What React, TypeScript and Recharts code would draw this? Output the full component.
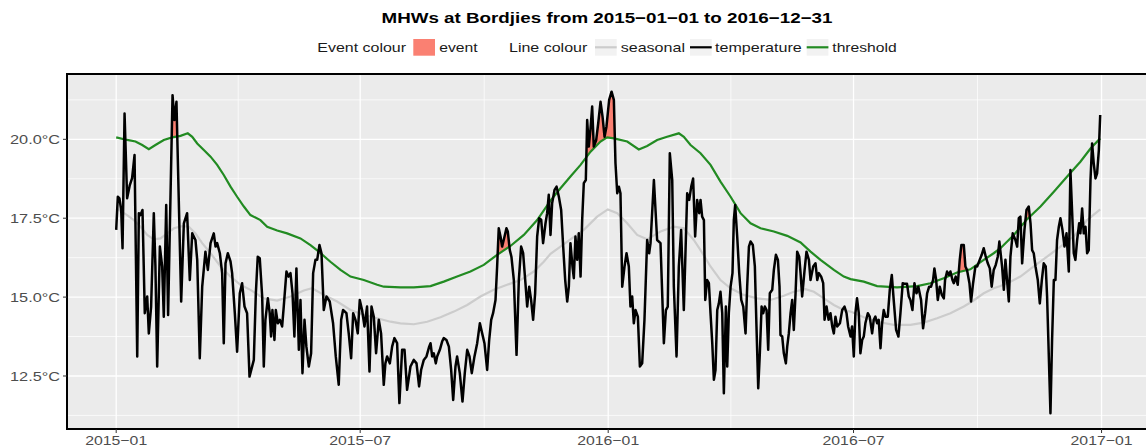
import React from "react";
import { ComposedChart, Line, Area, XAxis, YAxis, CartesianGrid, ReferenceArea } from "recharts";

// x values are days since 2015-01-01
const xTickDays = [0, 181, 365, 547, 731];
const xTickLabels = ["2015\u221201", "2015\u221207", "2016\u221201", "2016\u221207", "2017\u221201"];
const xMinorDays = [90.5, 273, 456, 639];
const yTicks = [12.5, 15, 17.5, 20];
const yMinor = [11.25, 13.75, 16.25, 18.75, 21.25];
const xDomain: [number, number] = [-36.5, 766.5];
const yDomain: [number, number] = [10.82, 22.07];

const temperature: [number, number][] = [
  [0, 17.13], [1.2, 18.18], [2.4, 18.13], [3.7, 17.76], [4.7, 16.55], [6.2, 20.82], [8.1, 18.13], [10.1, 18.55],
  [11.8, 18.77], [13.6, 19.5], [15.6, 13.12], [16.8, 17.66], [18.0, 17.6], [19.5, 17.76], [21.2, 14.49], [23.0, 15.02],
  [24.2, 13.85], [25.9, 14.7], [27.9, 17.66], [29.1, 15.97], [30.4, 12.8], [32.4, 16.6], [34.1, 15.97], [35.3, 14.38],
  [37.1, 17.92], [38.5, 14.43], [41.8, 21.4], [43.2, 20.61], [44.7, 21.19], [48.2, 14.86], [50.2, 17.34], [52.6, 17.66],
  [54.6, 15.54], [56.4, 17.02], [58.8, 16.81], [60.1, 16.18], [62.0, 13.06], [63.8, 15.33], [66.2, 16.44], [68.0, 15.86],
  [70.0, 16.71], [72.4, 17.02], [73.7, 16.6], [74.9, 16.71], [76.9, 16.39], [78.6, 15.76], [79.8, 13.54], [81.1, 16.07],
  [82.8, 16.39], [84.8, 16.13], [86.0, 15.76], [88.0, 14.49], [89.7, 13.27], [91.7, 15.12], [93.4, 15.44], [95.2, 14.7],
  [97.1, 14.49], [98.9, 12.48], [102.1, 13.01], [103.6, 15.12], [105.0, 16.28], [106.5, 16.23], [108.3, 15.02], [109.5, 12.8],
  [110.7, 14.28], [112.5, 14.96], [113.9, 14.49], [114.9, 13.75], [115.9, 14.59], [117.4, 13.64], [118.4, 14.59], [119.9, 14.17],
  [121.4, 14.28], [123.1, 14.07], [124.3, 14.7], [126.3, 15.81], [127.8, 15.65], [129.3, 15.76], [130.8, 15.12], [132.2, 13.75],
  [133.7, 15.91], [135.5, 13.33], [136.7, 14.91], [138.2, 12.59], [139.7, 14.28], [141.1, 13.43], [142.9, 12.8], [144.6, 13.22],
  [146.1, 15.76], [147.8, 16.18], [149.1, 16.18], [150.8, 16.65], [152.3, 16.39], [154.0, 14.59], [156.0, 15.02], [158.4, 14.86],
  [160.9, 14.17], [162.9, 13.12], [165.1, 12.22], [166.9, 14.28], [168.3, 14.59], [170.8, 14.49], [172.5, 13.85], [174.3, 13.06],
  [175.8, 14.49], [177.5, 14.28], [179.2, 13.85], [180.7, 14.91], [182.4, 14.59], [184.2, 14.07], [186.1, 14.7], [187.9, 12.64],
  [189.4, 14.7], [191.1, 14.38], [192.8, 13.22], [194.8, 14.28], [196.5, 13.85], [198.5, 12.22], [199.7, 12.9], [201.0, 13.12],
  [203.0, 12.9], [204.7, 13.43], [206.4, 13.7], [208.4, 13.54], [210.1, 11.64], [212.1, 13.33], [213.9, 13.33], [215.8, 12.06],
  [218.3, 12.8], [220.8, 13.01], [222.8, 12.9], [224.7, 12.17], [226.2, 12.69], [228.2, 13.01], [230.2, 13.12], [232.2, 13.43],
  [233.2, 13.54], [234.4, 13.12], [235.6, 13.22], [237.1, 12.9], [238.1, 13.12], [240.1, 13.33], [241.8, 13.59], [243.0, 13.7],
  [245.0, 13.64], [246.8, 13.43], [248.5, 12.69], [250.0, 11.74], [251.7, 12.8], [252.9, 13.12], [254.9, 12.59], [256.9, 11.69],
  [258.6, 12.59], [260.4, 13.33], [262.1, 13.12], [263.8, 12.59], [265.8, 13.12], [267.8, 13.54], [269.8, 14.17], [271.5, 13.85],
  [273.2, 13.54], [275.2, 12.69], [276.7, 13.64], [278.2, 14.28], [279.6, 14.49], [281.4, 14.91], [282.6, 15.97], [283.8, 17.18],
  [285.1, 16.92], [286.3, 16.6], [288.1, 16.92], [289.5, 17.18], [290.5, 17.08], [292.0, 16.49], [293.2, 16.28], [295.0, 15.54],
  [297.0, 13.17], [298.7, 15.54], [300.4, 16.6], [301.9, 16.39], [303.6, 15.44], [304.9, 14.7], [306.4, 15.33], [307.8, 14.91],
  [309.3, 14.28], [310.8, 15.12], [312.3, 16.92], [313.8, 17.5], [315.3, 17.45], [316.7, 16.71], [318.5, 17.34], [319.7, 17.66],
  [320.9, 18.24], [322.2, 16.97], [323.4, 17.97], [325.2, 18.4], [326.7, 18.5], [328.4, 18.18], [330.1, 17.76], [331.6, 16.6],
  [333.1, 15.54], [334.6, 14.86], [335.8, 15.33], [337.0, 16.71], [338.5, 15.97], [339.5, 15.6], [340.7, 16.92], [342.0, 16.18],
  [343.2, 17.02], [344.5, 15.65], [345.7, 17.45], [346.9, 18.61], [348.4, 18.71], [349.4, 20.61], [350.6, 19.77], [351.9, 20.35],
  [353.1, 21.04], [354.3, 19.77], [356.1, 19.98], [357.6, 20.51], [359.3, 21.19], [360.8, 20.72], [362.3, 20.08], [363.7, 20.4],
  [365.7, 21.25], [367.5, 21.51], [369.2, 21.25], [370.4, 19.24], [371.7, 18.29], [372.9, 18.5], [374.1, 18.29], [375.4, 15.33],
  [377.1, 15.97], [378.6, 16.39], [380.3, 15.97], [381.5, 14.7], [382.8, 15.02], [384.0, 14.17], [385.3, 14.59], [387.0, 14.38],
  [388.5, 12.8], [390.2, 12.9], [391.9, 14.28], [393.9, 16.81], [395.4, 16.39], [396.4, 16.71], [398.9, 18.71], [401.3, 16.81],
  [403.8, 16.71], [406.3, 13.54], [407.8, 14.59], [409.2, 14.7], [410.7, 19.56], [412.5, 18.71], [413.7, 15.33], [415.7, 13.12],
  [417.4, 15.97], [419.1, 17.13], [421.1, 14.59], [423.6, 18.29], [425.1, 18.08], [426.6, 18.5], [428.0, 18.76], [429.5, 16.92],
  [431.0, 18.08], [432.5, 17.66], [433.5, 18.08], [434.7, 17.55], [436.0, 17.44], [437.0, 14.91], [438.4, 15.54], [439.7, 15.44],
  [440.9, 14.49], [442.2, 13.54], [443.4, 12.38], [444.6, 12.69], [445.9, 14.59], [447.1, 14.8], [448.3, 15.17], [449.6, 14.49],
  [450.8, 11.95], [452.3, 14.7], [453.3, 12.8], [454.5, 14.49], [455.8, 15.33], [457.2, 15.76], [458.2, 17.44], [459.2, 17.92],
  [460.7, 16.92], [462.2, 15.76], [463.7, 14.91], [465.2, 14.7], [466.9, 13.85], [468.1, 15.33], [469.4, 16.6], [470.6, 16.76],
  [472.3, 16.65], [473.8, 15.97], [475.0, 14.07], [476.3, 12.11], [477.5, 13.22], [478.8, 14.7], [480.0, 14.49], [481.2, 14.7],
  [482.5, 14.59], [483.7, 13.33], [484.9, 15.12], [486.7, 15.23], [487.9, 15.86], [489.4, 16.34], [490.9, 16.18], [492.1, 15.33],
  [492.8, 13.8], [494.1, 13.75], [495.3, 13.22], [496.8, 12.9], [497.8, 13.43], [499.0, 13.85], [500.3, 14.49], [501.5, 14.91],
  [502.7, 13.96], [504.0, 15.12], [505.2, 16.44], [506.7, 16.28], [507.7, 15.76], [508.9, 15.02], [510.7, 15.86], [512.1, 16.44],
  [513.9, 16.18], [515.1, 15.54], [517.1, 15.97], [518.8, 16.07], [520.1, 15.54], [521.3, 15.76], [523.0, 15.65], [524.5, 15.44],
  [525.5, 14.28], [527.0, 14.7], [528.5, 14.28], [529.9, 14.49], [531.2, 14.07], [532.4, 13.85], [533.6, 14.38], [534.9, 14.07],
  [536.9, 14.17], [538.6, 14.59], [540.3, 14.7], [541.8, 14.49], [543.0, 14.07], [544.8, 13.75], [545.9, 14.07], [547.2, 13.12],
  [548.4, 14.49], [549.6, 14.96], [550.9, 14.49], [552.1, 13.22], [553.4, 13.64], [554.6, 13.75], [555.8, 14.17], [557.6, 14.49],
  [559.0, 14.38], [560.8, 13.85], [562.0, 14.28], [563.2, 14.38], [564.5, 14.17], [565.7, 14.28], [567.0, 13.38], [568.2, 14.17],
  [569.4, 14.59], [570.7, 14.38], [572.4, 14.38], [573.9, 15.23], [575.4, 15.7], [576.8, 14.91], [578.6, 13.96], [580.3, 13.75],
  [581.8, 14.49], [583.5, 15.44], [584.8, 15.42], [586.7, 15.42], [588.0, 15.02], [589.2, 14.91], [590.7, 14.59], [592.2, 15.44],
  [593.7, 15.12], [595.1, 15.33], [597.1, 14.91], [598.6, 14.01], [600.1, 14.49], [601.6, 15.12], [603.1, 15.33], [604.5, 15.33],
  [606.0, 15.54], [607.0, 15.91], [608.3, 15.54], [609.5, 14.91], [611.0, 15.33], [612.5, 15.07], [614.0, 14.96], [614.9, 15.54],
  [616.4, 15.81], [617.9, 15.7], [618.9, 15.81], [620.4, 15.54], [621.4, 15.44], [622.8, 15.65], [624.3, 15.39], [625.8, 16.18],
  [627.0, 16.65], [628.8, 16.65], [630.0, 15.97], [631.2, 15.86], [633.0, 15.44], [634.2, 14.86], [635.7, 15.44], [637.4, 15.97],
  [638.7, 15.97], [640.6, 16.18], [642.1, 16.34], [643.6, 16.55], [645.1, 16.28], [646.6, 16.07], [648.1, 15.91], [649.5, 15.33],
  [651.0, 15.86], [652.5, 16.02], [654.0, 16.28], [655.2, 16.76], [657.2, 15.97], [658.5, 15.23], [659.7, 16.18], [660.9, 15.54],
  [662.2, 14.86], [663.4, 16.28], [665.1, 17.02], [667.1, 16.81], [668.4, 16.6], [669.6, 17.5], [670.8, 17.55], [672.1, 16.07],
  [673.8, 17.13], [675.3, 17.76], [677.0, 17.87], [678.3, 17.34], [679.5, 16.49], [680.7, 16.39], [682.0, 15.97], [683.7, 15.54],
  [685.2, 14.8], [686.7, 15.54], [688.1, 16.07], [689.6, 15.97], [690.6, 15.02], [693.1, 11.32], [694.3, 13.64], [695.6, 15.54],
  [696.8, 15.54], [698.0, 16.81], [699.3, 17.23], [700.5, 17.5], [702.0, 17.13], [703.5, 16.6], [705.0, 17.02], [706.7, 15.81],
  [707.9, 19.03], [709.2, 17.66], [710.4, 16.39], [711.6, 16.18], [712.9, 16.81], [714.4, 17.34], [715.3, 17.02], [716.6, 17.81],
  [717.8, 17.02], [719.1, 17.23], [720.3, 16.39], [721.5, 16.49], [722.8, 18.71], [724.0, 19.87], [725.2, 19.24], [726.5, 18.76],
  [727.7, 18.92], [729.0, 19.66], [730.0, 20.77],
];

const seasonal: [number, number][] = [
  [0, 17.81], [8.1, 17.6], [13.1, 17.44], [18, 17.23], [23, 16.97], [27.9, 16.83], [32.9, 16.86], [37.8, 17.02],
  [42.8, 17.18], [48.9, 17.25], [53.9, 17.23], [58.8, 17.02], [63.8, 16.71], [70, 16.39], [77.4, 15.97], [84.8, 15.65],
  [92.2, 15.39], [99.6, 15.23], [109.5, 14.96], [119.4, 14.89], [129.3, 15.02], [139.2, 15.21], [145.3, 15.28], [154, 15.07],
  [163.9, 14.86], [173.8, 14.59], [183.7, 14.44], [193.6, 14.33], [203.5, 14.22], [210.9, 14.17], [220.8, 14.14], [230.7, 14.22],
  [240.6, 14.36], [250.5, 14.54], [260.4, 14.75], [270.2, 15.02], [280.1, 15.23], [290, 15.39], [299.9, 15.54], [309.8, 15.81],
  [317.2, 16.12], [322.2, 16.37], [329.6, 16.6], [337, 16.83], [346.9, 17.13], [356.8, 17.55], [364.7, 17.78], [371.7, 17.66],
  [379.1, 17.34], [386.5, 16.97], [393.9, 16.83], [403.8, 17.08], [413.7, 17.23], [421.1, 17.18], [428.5, 16.81], [433.5, 16.49],
  [440.9, 15.97], [448.3, 15.54], [455.8, 15.28], [465.6, 15.07], [475.5, 14.96], [485.4, 14.91], [495.3, 15.04], [502.7, 15.17],
  [511.4, 15.25], [517.6, 15.17], [525, 14.96], [532.4, 14.75], [539.8, 14.59], [544.8, 14.54], [554.6, 14.36], [564.5, 14.22],
  [576.8, 14.12], [589.2, 14.12], [599.1, 14.19], [609, 14.33], [618.9, 14.49], [628.8, 14.7], [635, 14.86], [643.6, 15.12],
  [651, 15.28], [656, 15.35], [663.4, 15.49], [670.8, 15.65], [680.7, 15.97], [690.6, 16.28], [700.5, 16.6], [710.4, 16.92],
  [720.3, 17.44], [730, 17.78],
];

const threshold: [number, number][] = [
  [0, 20.06], [8.1, 19.98], [14.3, 19.93], [19.3, 19.82], [24.2, 19.69], [29.1, 19.82], [35.3, 19.98], [41.5, 20.06],
  [47.7, 20.11], [53.1, 20.19], [56.4, 20.08], [60.1, 19.87], [65, 19.66], [70, 19.45], [74.9, 19.19], [79.8, 18.87],
  [84.8, 18.5], [89.7, 18.18], [94.7, 17.87], [99.6, 17.6], [107, 17.44], [112, 17.23], [119.4, 17.11], [126.8, 17.02],
  [136.7, 16.86], [144.1, 16.65], [150.3, 16.44], [158.9, 16.12], [166.4, 15.86], [173.8, 15.65], [183.7, 15.54], [193.6, 15.39],
  [198.5, 15.33], [210.9, 15.31], [220.8, 15.31], [233.2, 15.35], [243, 15.49], [252.9, 15.65], [262.8, 15.81], [272.7, 16.02],
  [282.6, 16.34], [292.5, 16.62], [302.4, 16.97], [312.3, 17.44], [322.2, 18.06], [329.6, 18.45], [337, 18.82], [344.5, 19.19],
  [351.9, 19.61], [359.3, 19.93], [364.2, 20.06], [369.2, 20.03], [379.1, 19.93], [387.7, 19.68], [393.9, 19.79], [401.3, 19.98],
  [408.7, 20.08], [417.4, 20.19], [421.1, 20.08], [426.1, 19.82], [433.5, 19.56], [440.9, 19.19], [448.3, 18.66], [455.8, 18.18],
  [463.2, 17.66], [470.6, 17.34], [478, 17.18], [487.9, 17.08], [497.8, 16.94], [507.7, 16.73], [515.1, 16.44], [522.5, 16.18],
  [532.4, 15.86], [539.8, 15.65], [544.8, 15.57], [554.6, 15.49], [564.5, 15.35], [579.3, 15.31], [594.2, 15.35], [604, 15.44],
  [613.9, 15.6], [623.8, 15.78], [633.7, 15.88], [643.6, 16.18], [651, 16.39], [656, 16.55], [665.9, 16.97], [675.8, 17.47],
  [685.7, 17.87], [695.6, 18.34], [705.5, 18.82], [715.3, 19.29], [722.8, 19.71], [730, 20.03],
];

// event flames: [day, threshold (low), temperature (high)]
const eventFeb2015: [number, number, number][] = [
  [41.2, 20.06, 20.06], [41.8, 20.07, 21.4], [43.2, 20.08, 20.61], [44.7, 20.1, 21.19], [45.3, 20.1, 20.1],
];
const eventOct2015: [number, number, number][] = [
  [282.9, 16.35, 16.35], [283.8, 16.37, 17.18], [285.1, 16.41, 16.92], [286.3, 16.44, 16.6], [288.1, 16.49, 16.92],
  [289.5, 16.53, 17.18], [290.5, 16.56, 17.08], [291.7, 16.59, 16.59],
];
const eventDec2015: [number, number, number][] = [
  [348.8, 19.44, 19.44], [349.4, 19.47, 20.61], [350.6, 19.54, 19.77], [351.9, 19.61, 20.35], [353.1, 19.66, 21.04],
  [354.3, 19.71, 19.77], [356.1, 19.79, 19.98], [357.6, 19.86, 20.51], [359.3, 19.93, 21.19], [360.8, 19.97, 20.72],
  [362.3, 20.01, 20.08], [363.7, 20.05, 20.4], [365.7, 20.05, 21.25], [367.5, 20.04, 21.51], [369.2, 20.03, 21.25],
  [369.9, 20.02, 20.02],
];
const eventSep2016a: [number, number, number][] = [
  [615.6, 15.64, 15.64], [616.4, 15.66, 15.81], [617.9, 15.68, 15.7], [618.9, 15.7, 15.81], [619.8, 15.71, 15.71],
];
const eventSep2016b: [number, number, number][] = [
  [625.0, 15.79, 15.79], [625.8, 15.8, 16.18], [627.0, 15.81, 16.65], [628.8, 15.83, 16.65], [630.0, 15.84, 15.97],
  [631.2, 15.86, 15.86],
];
const eventNov2016: [number, number, number][] = [
  [674.6, 17.41, 17.41], [675.3, 17.45, 17.76], [677.0, 17.52, 17.87], [677.7, 17.55, 17.55],
];
const events = [eventFeb2015, eventOct2015, eventDec2015, eventSep2016a, eventSep2016b, eventNov2016];

const toRows = (pairs: [number, number][]) => pairs.map(([d, v]) => ({ d, v }));
const toRange = (triples: [number, number, number][]) => triples.map(([d, lo, hi]) => ({ d, r: [lo, hi] }));

const FONT = "'Liberation Sans', Arial, Helvetica, sans-serif";
const EVENT_FILL = "#FA8072";
const SEAS = "#CCCCCC";
const TEMP = "#000000";
const THRESH = "#228B22";

const XTick = (props: any) => {
  const { x, y, payload } = props;
  const i = xTickDays.indexOf(payload.value);
  return (
    <text x={x} y={y} dy="0.8em" textAnchor="middle" fill="#4D4D4D" fontSize={12.8} fontFamily={FONT}
      textLength={62} lengthAdjust="spacingAndGlyphs">
      {i >= 0 ? xTickLabels[i] : ""}
    </text>
  );
};

const YTick = (props: any) => {
  const { x, y, payload } = props;
  return (
    <text x={x} y={y} dy="0.36em" textAnchor="end" fill="#4D4D4D" fontSize={12.8} fontFamily={FONT}
      textLength={50} lengthAdjust="spacingAndGlyphs">
      {`${Number(payload.value).toFixed(1)}°C`}
    </text>
  );
};

const minorH = (p: any) => {
  const ya = p.yAxis;
  if (ya && typeof ya.scale === "function") return yMinor.map((v) => ya.scale(v));
  const o = p.offset;
  return yMinor.map((v) => o.top + ((yDomain[1] - v) / (yDomain[1] - yDomain[0])) * o.height);
};
const minorV = (p: any) => {
  const xa = p.xAxis;
  if (xa && typeof xa.scale === "function") return xMinorDays.map((v) => xa.scale(v));
  const o = p.offset;
  return xMinorDays.map((v) => o.left + ((v - xDomain[0]) / (xDomain[1] - xDomain[0])) * o.width);
};

const LegendKeyLine = ({ x, color }: { x: number; color: string }) => (
  <g>
    <rect x={x} y={39} width={21.7} height={16.7} fill="#F2F2F2" />
    <line x1={x} x2={x + 21.7} y1={47.3} y2={47.3} stroke={color} strokeWidth={2.2} />
  </g>
);

const Lbl = ({ x, len, children }: { x: number; len: number; children: React.ReactNode }) => (
  <text x={x} y={52.3} fontSize={12.8} fill="#1A1A1A" fontFamily={FONT} textLength={len} lengthAdjust="spacingAndGlyphs">
    {children}
  </text>
);

export default function App() {
  return (
    <div style={{ position: "absolute", left: 0, top: 0, width: 1146, height: 448, overflow: "hidden", background: "#FFFFFF", fontFamily: FONT }}>
      <ComposedChart width={1152} height={448} margin={{ top: 74, right: 2.6, bottom: 0, left: 0 }}>
        <CartesianGrid fill="#EBEBEB" stroke="#FFFFFF" strokeWidth={1.3} />
        <CartesianGrid stroke="#FFFFFF" strokeWidth={0.7} horizontalCoordinatesGenerator={minorH} verticalCoordinatesGenerator={minorV} />
        <XAxis dataKey="d" type="number" domain={xDomain} ticks={xTickDays} interval={0} allowDataOverflow
          height={19} tickSize={4} tickMargin={2} axisLine={false} tickLine={{ stroke: "#333333" }} tick={<XTick />} />
        <YAxis type="number" domain={yDomain} ticks={yTicks} interval={0} allowDataOverflow
          width={67} tickSize={4} tickMargin={3} axisLine={false} tickLine={{ stroke: "#333333" }} tick={<YTick />} />
        {events.map((ev, i) => (
          <Area key={`ev${i}`} data={toRange(ev)} dataKey="r" type="linear" stroke="none" fill={EVENT_FILL}
            fillOpacity={1} isAnimationActive={false} dot={false} activeDot={false} />
        ))}
        <Line data={toRows(seasonal)} dataKey="v" type="linear" stroke={SEAS} strokeWidth={2.2} dot={false} activeDot={false} isAnimationActive={false} />
        <Line data={toRows(threshold)} dataKey="v" type="linear" stroke={THRESH} strokeWidth={2.2} dot={false} activeDot={false} isAnimationActive={false} />
        <Line data={toRows(temperature)} dataKey="v" type="linear" stroke={TEMP} strokeWidth={2.5} strokeLinejoin="round" dot={false} activeDot={false} isAnimationActive={false} />
        <ReferenceArea x1={xDomain[0]} x2={xDomain[1]} y1={yDomain[0]} y2={yDomain[1]} fill="none" fillOpacity={0}
          stroke="#000000" strokeWidth={2} ifOverflow="visible" />
      </ComposedChart>
      <svg width={1146} height={72} style={{ position: "absolute", left: 0, top: 0, pointerEvents: "none" }}>
        <text x={607} y={23.3} textAnchor="middle" fontWeight="bold" fontSize={15} fill="#000000" fontFamily={FONT}
          textLength={451} lengthAdjust="spacingAndGlyphs">
          MHWs at Bordjies from 2015−01−01 to 2016−12−31
        </text>
        <Lbl x={317.3} len={88.7}>Event colour</Lbl>
        <rect x={413.3} y={39} width={21.7} height={16.7} fill={EVENT_FILL} />
        <Lbl x={439.3} len={38.4}>event</Lbl>
        <Lbl x={509} len={78.3}>Line colour</Lbl>
        <LegendKeyLine x={595} color={SEAS} />
        <Lbl x={620.7} len={64.3}>seasonal</Lbl>
        <LegendKeyLine x={690} color={TEMP} />
        <Lbl x={715} len={86.7}>temperature</Lbl>
        <LegendKeyLine x={806.7} color={THRESH} />
        <Lbl x={832.3} len={64.4}>threshold</Lbl>
      </svg>
    </div>
  );
}
